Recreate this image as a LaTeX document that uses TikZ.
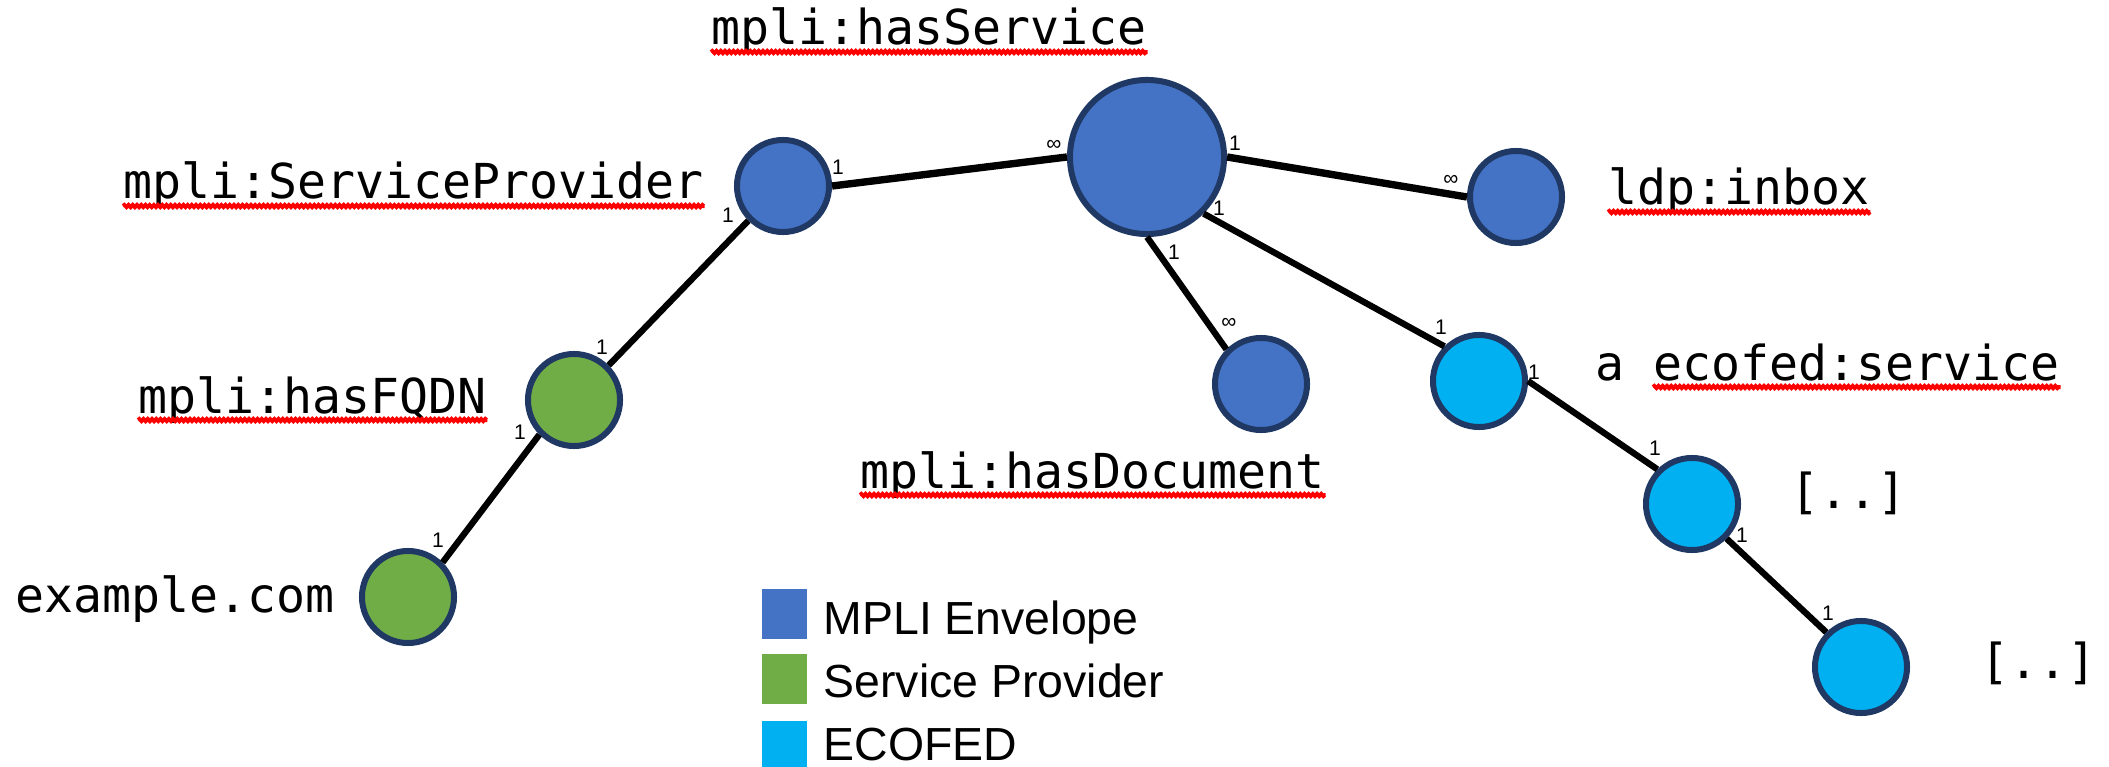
\documentclass[tikz,border=0pt]{standalone}
\usepackage{fontspec}
\setmonofont{DejaVu Sans Mono}
\setsansfont{Liberation Sans}
\usepackage{tikz}
\usetikzlibrary{decorations.pathmorphing}

\definecolor{mpliblue}{HTML}{4472C4}
\definecolor{spgreen}{HTML}{70AD47}
\definecolor{ecocyan}{HTML}{00B0F0}
\definecolor{rim}{HTML}{1F3864}

\begin{document}
\begin{tikzpicture}[x=0.01cm,y=-0.01cm,
	ball/.style={circle,draw=rim,line width=0.06cm,minimum size=0.92cm,inner sep=0pt},
	iri/.style={font=\ttfamily\fontsize{13.7}{16}\selectfont,anchor=base west,inner sep=0pt},
	card/.style={font=\sffamily\fontsize{6}{7}\selectfont,inner sep=0pt},
	leg/.style={font=\sffamily\fontsize{13.2}{15}\selectfont,anchor=base west,inner sep=0pt},
	swatch/.style={minimum width=0.45cm,minimum height=0.5cm,inner sep=0pt,anchor=north west},
	wavy/.style={red,line width=0.04cm,decorate,decoration={snake,amplitude=0.3pt,segment length=1.2pt}}]
\useasboundingbox (0,0) rectangle (2109,767);
\path (1147,157) node[ball,fill=mpliblue,minimum size=1.54cm] (env) {}
		(783,186) node[ball,fill=mpliblue] (sp) {}
		(1516,197) node[ball,fill=mpliblue] (inbox) {}
		(1261,384) node[ball,fill=mpliblue] (doc) {}
		(574,400) node[ball,fill=spgreen] (fqdn) {}
		(408,597) node[ball,fill=spgreen] (com) {}
		(1479,381) node[ball,fill=ecocyan] (svc) {}
		(1692,504) node[ball,fill=ecocyan] (d1) {}
		(1861,667) node[ball,fill=ecocyan] (d2) {}
		(711,45) node[iri] (t-env) {mpli:hasService}
		(123,199) node[iri] (t-sp) {mpli:ServiceProvider}
		(1608,205) node[iri] (t-inbox) {ldp:inbox}
		(138,413) node[iri] (t-fqdn) {mpli:hasFQDN}
		(15,612) node[iri] (t-com) {example.com}
		(860,488) node[iri] (t-doc) {mpli:hasDocument}
		(1595,380) node[iri] (t-a) {a}
		(1653,380) node[iri] (t-svc) {ecofed:service}
		(1790,508) node[iri] (t-d1) {[..]}
		(1980,678) node[iri] (t-d2) {[..]}
		(838,167) node[card] (c1) {1}
		(1054,145) node[card] (c2) {∞}
		(1235,143) node[card] (c3) {1}
		(1451,180) node[card] (c4) {∞}
		(1219,208) node[card] (c5) {1}
		(1441,327) node[card] (c6) {1}
		(1174,252) node[card] (c7) {1}
		(1229,323) node[card] (c8) {∞}
		(1534,372) node[card] (c9) {1}
		(1655,448) node[card] (c10) {1}
		(1742,535) node[card] (c11) {1}
		(1828,613) node[card] (c12) {1}
		(728,215) node[card] (c13) {1}
		(602,347) node[card] (c14) {1}
		(520,432) node[card] (c15) {1}
		(438,540) node[card] (c16) {1}
		(761,588) node[swatch,fill=mpliblue] (k1) {}
		(761,653) node[swatch,fill=spgreen] (k2) {}
		(761,720) node[swatch,fill=ecocyan] (k3) {}
		(823,634) node[leg] (l1) {MPLI Envelope}
		(823,697) node[leg] (l2) {Service Provider}
		(823,760) node[leg] (l3) {ECOFED}
		;
\begin{scope}[line width=1.8pt]
\draw[line width=2.1pt] (node cs:name=sp,anchor=east) -- (node cs:name=env,anchor=west);
\draw[line width=2.1pt] (node cs:name=env,anchor=east) -- (node cs:name=inbox,anchor=west);
\draw (node cs:name=env,anchor=south east) -- (node cs:name=svc,anchor=north west);
\draw (node cs:name=env,anchor=south) -- (node cs:name=doc,anchor=north west);
\draw (node cs:name=svc,anchor=east) -- (node cs:name=d1,anchor=north west);
\draw (node cs:name=d1,anchor=south east) -- (node cs:name=d2,anchor=north west);
\draw (node cs:name=sp,anchor=south west) -- (node cs:name=fqdn,anchor=north east);
\draw (node cs:name=fqdn,anchor=south west) -- (node cs:name=com,anchor=north east);
\end{scope}

\foreach \t in {t-env,t-sp,t-inbox,t-fqdn,t-doc,t-svc}
	\draw[wavy] ([yshift=-2pt]\t.base west) -- ([yshift=-2pt]\t.base east);
\end{tikzpicture}
\end{document}
